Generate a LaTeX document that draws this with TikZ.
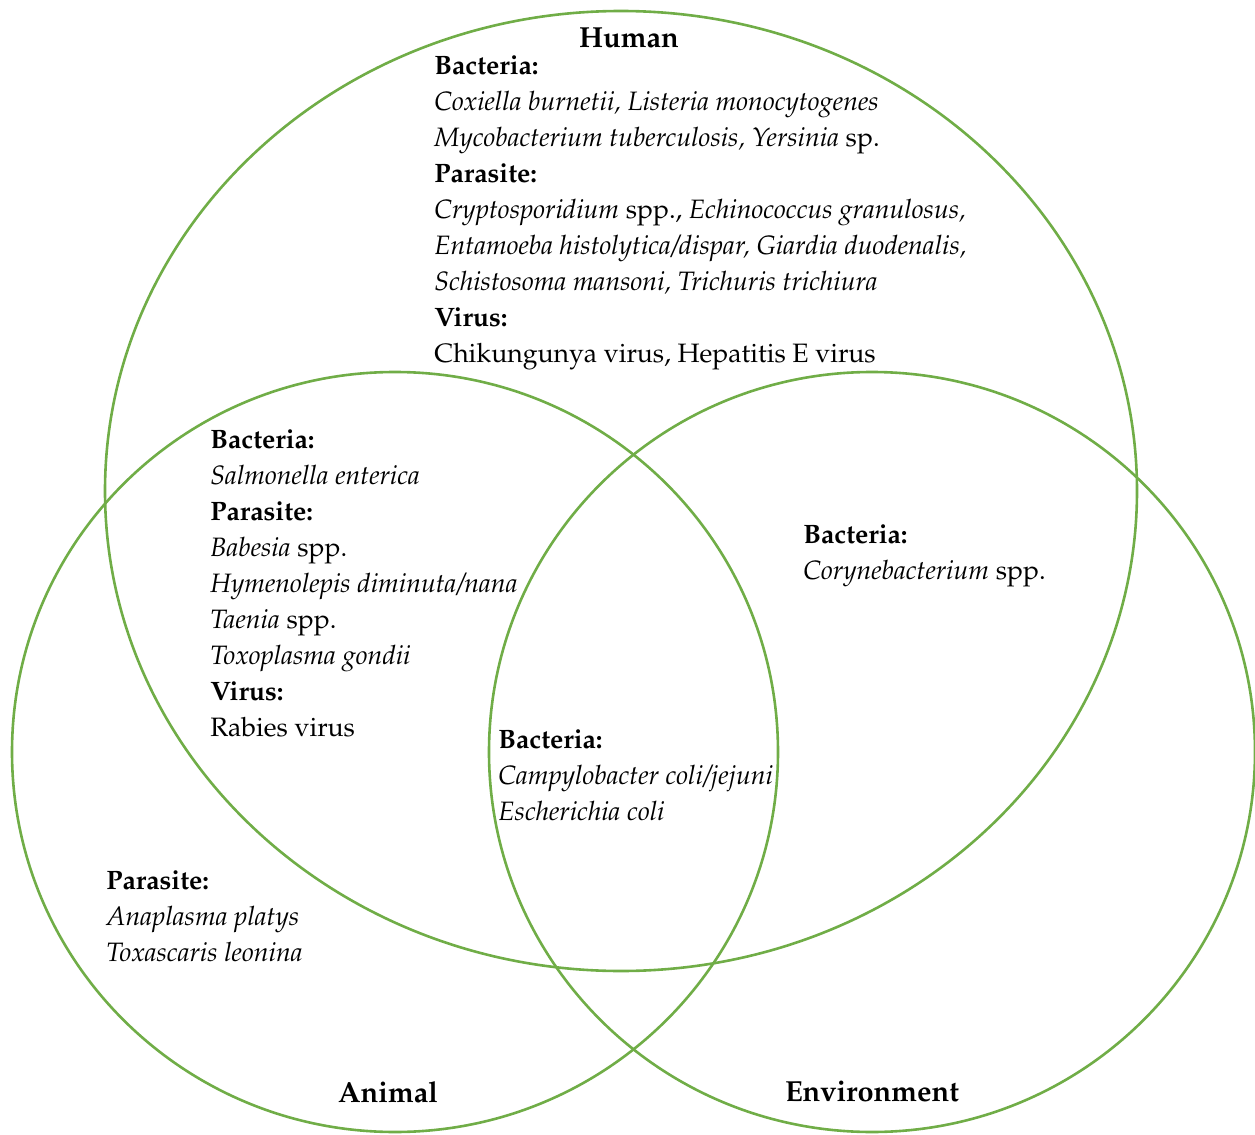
\documentclass[tikz,border=0pt]{standalone}
\usepackage[T1]{fontenc}
\renewcommand{\rmdefault}{ppl}
\definecolor{venngreen}{RGB}{112,173,71}
\tikzset{
  vennline/.style={draw=venngreen, line width=1.3pt},
  block/.style={anchor=north west, inner sep=0pt, align=left, font=\fontsize{13.3}{18}\selectfont},
  setlabel/.style={inner sep=0pt, font=\fontsize{14.5}{18}\selectfont\bfseries}
}
\begin{document}
\begin{tikzpicture}[x=0.5pt,y=-0.5pt]
\useasboundingbox (0,0) rectangle (1255,1135);
% circles
\draw[vennline] (621,491) ellipse [x radius=258pt, y radius=240pt];
\draw[vennline] (395,752) ellipse [x radius=191.5pt, y radius=190pt];
\draw[vennline] (872,752) ellipse [x radius=191.5pt, y radius=190pt];
% set labels
\node[setlabel] (human) at (629,38) {Human};
\node[setlabel] (animal) at (388,1092) {Animal};
\node[setlabel] (env) at (872,1092) {Environment};
% human only
\node[block] (hum) at (434,55) {\textbf{Bacteria:}\\
\textit{Coxiella burnetii, Listeria monocytogenes}\\
\textit{Mycobacterium tuberculosis, Yersinia} sp.\\
\textbf{Parasite:}\\
\textit{Cryptosporidium} spp., \textit{Echinococcus granulosus,}\\
\textit{Entamoeba histolytica/dispar, Giardia duodenalis,}\\
\textit{Schistosoma mansoni, Trichuris trichiura}\\
\textbf{Virus:}\\
Chikungunya virus, Hepatitis E virus};
% human & animal
\node[block] (ha) at (210,429) {\textbf{Bacteria:}\\
\textit{Salmonella enterica}\\
\textbf{Parasite:}\\
\textit{Babesia} spp.\\
\textit{Hymenolepis diminuta/nana}\\
\textit{Taenia} spp.\\
\textit{Toxoplasma gondii}\\
\textbf{Virus:}\\
Rabies virus};
% human & environment
\node[block] (he) at (803,524) {\textbf{Bacteria:}\\
\textit{Corynebacterium} spp.};
% all three
\node[block] (all) at (498,729) {\textbf{Bacteria:}\\
\textit{Campylobacter coli/jejuni}\\
\textit{Escherichia coli}};
% animal only
\node[block] (ani) at (106,870) {\textbf{Parasite:}\\
\textit{Anaplasma platys}\\
\textit{Toxascaris leonina}};
\end{tikzpicture}
\end{document}
